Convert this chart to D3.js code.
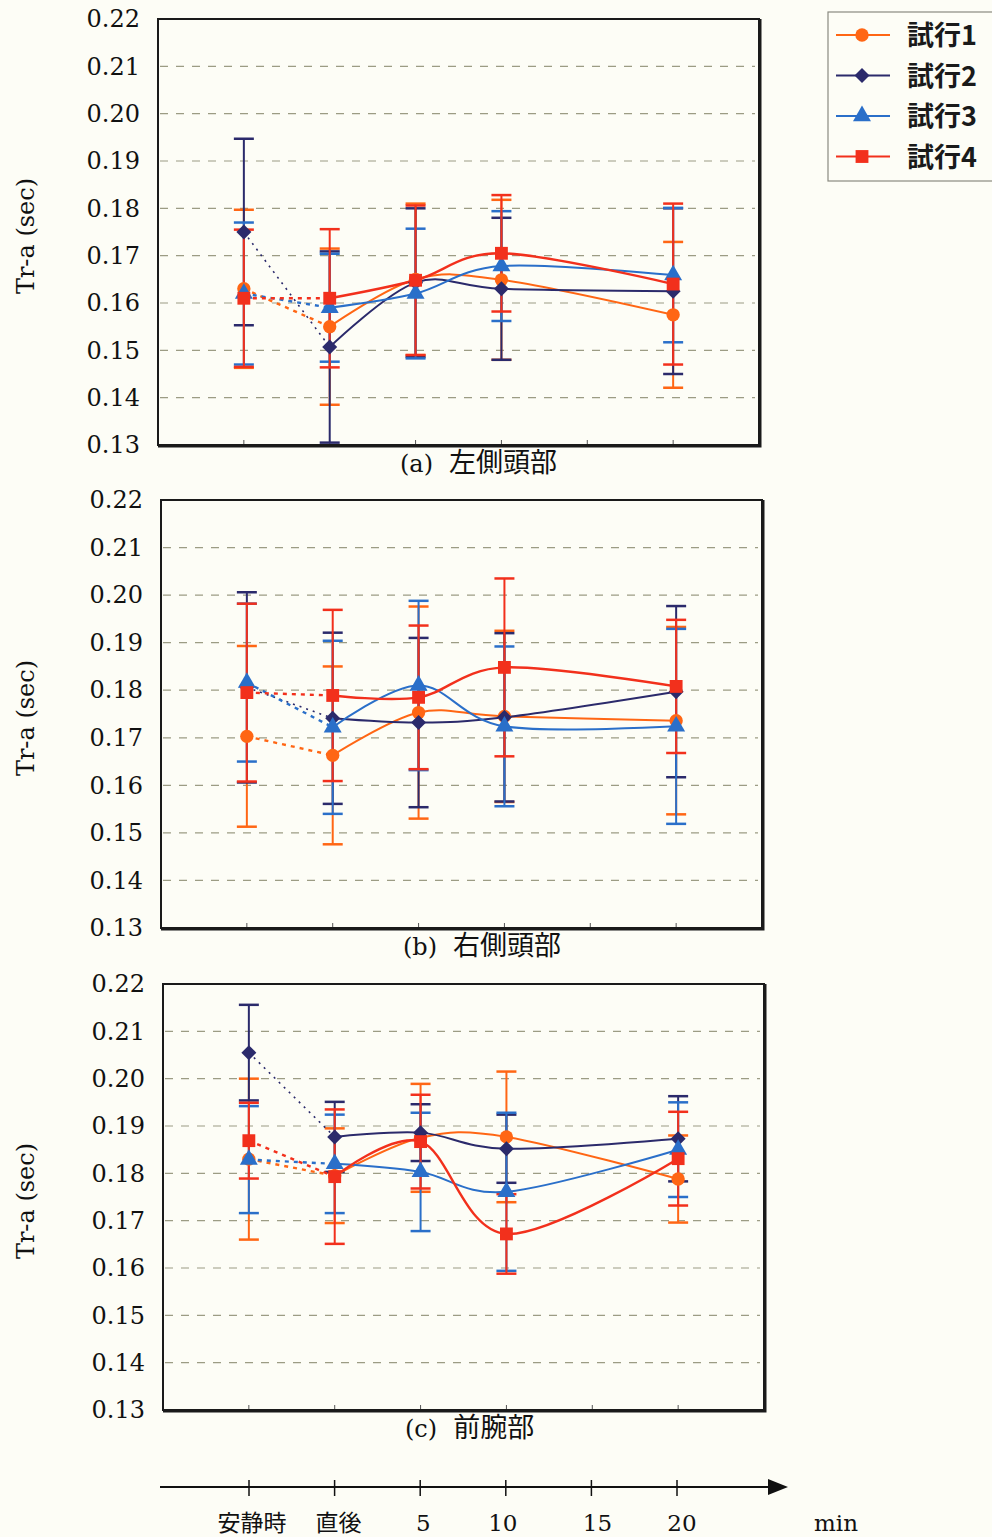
<!DOCTYPE html>
<html><head><meta charset="utf-8">
<script src="https://cdn.jsdelivr.net/npm/d3@7"></script>
<style>
html,body{margin:0;padding:0;background:#fdfdf6;}
svg{display:block;}
</style></head>
<body>
<svg id="chart" width="992" height="1537"></svg>
<script>
// ---------- data ----------
const categories = ["安静時", "直後", "5", "10", "15", "20"];
const dataCats = ["安静時", "直後", "5", "10", "20"];
const seriesNames = ["試行1", "試行2", "試行3", "試行4"];
const yTicks = [0.13, 0.14, 0.15, 0.16, 0.17, 0.18, 0.19, 0.20, 0.21, 0.22];
const panelTitles = ["(a)", "(b)", "(c)"];
const panelNames = ["左側頭部", "右側頭部", "前腕部"];

// panel (a) 左側頭部
const a_mean1 = [0.163, 0.155, 0.165, 0.1649, 0.1575];
const a_sd1   = [0.0167, 0.0165, 0.016, 0.0169, 0.0154];
const a_mean2 = [0.175, 0.1507, 0.1643, 0.163, 0.1625];
const a_sd2   = [0.0197, 0.0202, 0.0157, 0.015, 0.0175];
const a_mean3 = [0.162, 0.159, 0.162, 0.1678, 0.1659];
const a_sd3   = [0.015, 0.0114, 0.0137, 0.0116, 0.0142];
const a_mean4 = [0.161, 0.161, 0.1648, 0.1705, 0.164];
const a_sd4   = [0.0145, 0.0146, 0.0158, 0.0123, 0.017];
// panel (b) 右側頭部
const b_mean1 = [0.1703, 0.1663, 0.1753, 0.1745, 0.1736];
const b_sd1   = [0.019, 0.0187, 0.0223, 0.018, 0.0197];
const b_mean2 = [0.1806, 0.1741, 0.1732, 0.1743, 0.1797];
const b_sd2   = [0.020, 0.018, 0.0178, 0.0177, 0.018];
const b_mean3 = [0.1816, 0.1722, 0.181, 0.1724, 0.1724];
const b_sd3   = [0.0166, 0.0182, 0.0178, 0.0168, 0.0205];
const b_mean4 = [0.1795, 0.1789, 0.1785, 0.1848, 0.1808];
const b_sd4   = [0.0187, 0.018, 0.0151, 0.0187, 0.014];
// panel (c) 前腕部
const c_mean1 = [0.183, 0.1795, 0.1875, 0.1877, 0.1788];
const c_sd1   = [0.017, 0.010, 0.0114, 0.0138, 0.0092];
const c_mean2 = [0.2055, 0.1877, 0.1886, 0.1852, 0.1873];
const c_sd2   = [0.0101, 0.0074, 0.006, 0.0072, 0.009];
const c_mean3 = [0.1829, 0.182, 0.1803, 0.1761, 0.185];
const c_sd3   = [0.0113, 0.0104, 0.0125, 0.0167, 0.010];
const c_mean4 = [0.1869, 0.1793, 0.1867, 0.1672, 0.1831];
const c_sd4   = [0.008, 0.0142, 0.0099, 0.0084, 0.0099];

const panelData = [
  [[a_mean1, a_sd1], [a_mean2, a_sd2], [a_mean3, a_sd3], [a_mean4, a_sd4]],
  [[b_mean1, b_sd1], [b_mean2, b_sd2], [b_mean3, b_sd3], [b_mean4, b_sd4]],
  [[c_mean1, c_sd1], [c_mean2, c_sd2], [c_mean3, c_sd3], [c_mean4, c_sd4]]
];

// ---------- styles / layout ----------
const colors = ["#ff6614", "#2b2a6b", "#2a6fc9", "#f2301c"];
const markers = ["circle", "diamond", "triangle", "square"];
const layout = [
  {left: 158, top: 19, right: 759, bottom: 445},
  {left: 161, top: 500, right: 762, bottom: 928},
  {left: 163, top: 984, right: 764, bottom: 1410}
];
const serif = "'DejaVu Serif', 'Liberation Serif', serif";
const jp = "'Noto Sans CJK JP', sans-serif";

const svg = d3.select("#chart");
svg.append("rect").attr("width", 992).attr("height", 1537).attr("fill", "#fdfdf6");

function markerPath(type) {
  if (type === "diamond") {
    const p = d3.path(); p.moveTo(0, -7.5); p.lineTo(7.5, 0); p.lineTo(0, 7.5); p.lineTo(-7.5, 0); p.closePath();
    return p.toString();
  }
  const sym = {circle: d3.symbolCircle, triangle: d3.symbolTriangle, square: d3.symbolSquare}[type];
  const size = {circle: 140, triangle: 140, square: 165}[type];
  return d3.symbol().type(sym).size(size)();
}

layout.forEach((L, pi) => {
  const g = svg.append("g");
  const x = d3.scalePoint().domain(categories).range([L.left, L.right]).padding(1);
  const y = d3.scaleLinear().domain([0.13, 0.22]).range([L.bottom, L.top]);

  // grid lines
  g.selectAll(".grid").data(yTicks.filter(t => t > 0.131 && t < 0.219)).join("line")
    .attr("x1", L.left + 2).attr("x2", L.right - 4)
    .attr("y1", d => y(d)).attr("y2", d => y(d))
    .attr("stroke", "#9c9c84").attr("stroke-width", 1.2).attr("stroke-dasharray", "8,8");

  // y axis labels
  const yAxis = d3.axisLeft(y).tickValues(yTicks).tickFormat(d3.format(".2f")).tickSize(0).tickPadding(18);
  const ya = g.append("g").attr("transform", `translate(${L.left},0)`).call(yAxis);
  ya.select(".domain").remove();
  ya.selectAll("text").attr("font-family", serif).attr("font-size", 24).attr("fill", "#111");

  // small bottom ticks inside frame
  g.selectAll(".btick").data(categories).join("line")
    .attr("x1", d => x(d)).attr("x2", d => x(d))
    .attr("y1", L.bottom).attr("y2", L.bottom - 5)
    .attr("stroke", "#555").attr("stroke-width", 1);

  // frame
  g.append("rect").attr("x", L.left).attr("y", L.top)
    .attr("width", L.right - L.left).attr("height", L.bottom - L.top)
    .attr("fill", "none").attr("stroke", "#1a1a1a").attr("stroke-width", 2);
  g.append("path")
    .attr("d", `M${L.left},${L.bottom + 1}H${L.right + 1}V${L.top}`)
    .attr("fill", "none").attr("stroke", "#1a1a1a").attr("stroke-width", 3);

  // y title
  g.append("text")
    .attr("transform", `translate(34,${(L.top + L.bottom) / 2 + 4}) rotate(-90)`)
    .attr("text-anchor", "middle").attr("font-family", serif).attr("font-size", 24)
    .attr("fill", "#111").text("Tr-a (sec)");

  // caption
  const cap = g.append("text").attr("x", L.left + 242).attr("y", L.bottom + 27)
    .attr("font-size", 24).attr("fill", "#111");
  cap.append("tspan").attr("font-family", serif).text(panelTitles[pi]);
  cap.append("tspan").attr("dx", 16).attr("font-family", jp).attr("font-size", 27).text(panelNames[pi]);

  const series = panelData[pi];

  // error bars
  series.forEach((s, si) => {
    const [mean, sd] = s;
    const eg = g.append("g").attr("stroke", colors[si]).attr("fill", "none");
    dataCats.forEach((c, i) => {
      const cx = x(c), y1 = y(mean[i] + sd[i]), y0 = y(mean[i] - sd[i]);
      eg.append("line").attr("x1", cx).attr("x2", cx).attr("y1", y1).attr("y2", y0).attr("stroke-width", 2);
      eg.append("line").attr("x1", cx - 10).attr("x2", cx + 10).attr("y1", y1).attr("y2", y1).attr("stroke-width", 2.5);
      eg.append("line").attr("x1", cx - 10).attr("x2", cx + 10).attr("y1", y0).attr("y2", y0).attr("stroke-width", 2.5);
    });
  });

  // lines
  series.forEach((s, si) => {
    const [mean] = s;
    const pts = dataCats.map((c, i) => [x(c), y(mean[i])]);
    // dotted connector rest -> immediately after
    g.append("path").attr("d", d3.line()([pts[0], pts[1]]))
      .attr("fill", "none").attr("stroke", colors[si])
      .attr("stroke-width", si === 1 ? 1.6 : 2.4)
      .attr("stroke-dasharray", si === 1 ? "2,5" : "4,5");
    g.append("path").attr("d", d3.line().curve(d3.curveCatmullRom.alpha(0))(pts.slice(1)))
      .attr("fill", "none").attr("stroke", colors[si]).attr("stroke-width", si === 3 ? 2.4 : 2);
  });

  // markers
  series.forEach((s, si) => {
    const [mean] = s;
    g.append("g").selectAll("path").data(dataCats).join("path")
      .attr("transform", (c, i) => `translate(${x(c)},${y(mean[i])})`)
      .attr("d", markerPath(markers[si]))
      .attr("fill", colors[si]);
  });
});

// ---------- legend ----------
const lg = svg.append("g");
lg.append("rect").attr("x", 828).attr("y", 12).attr("width", 170).attr("height", 169)
  .attr("fill", "#fdfdf6").attr("stroke", "#8a8a80").attr("stroke-width", 1.2);
seriesNames.forEach((n, i) => {
  const yy = 35 + i * 40.5;
  lg.append("line").attr("x1", 836).attr("x2", 890).attr("y1", yy).attr("y2", yy)
    .attr("stroke", colors[i]).attr("stroke-width", 2);
  lg.append("path").attr("transform", `translate(862,${yy})`)
    .attr("d", markerPath(markers[i])).attr("fill", colors[i]);
  lg.append("text").attr("x", 907).attr("y", yy + 10).attr("font-family", jp)
    .attr("font-weight", "bold").attr("font-size", 27).attr("fill", "#1a1a1a").text(n);
});

// ---------- bottom time axis ----------
const xb = d3.scalePoint().domain(categories).range([249, 677]);
const ab = svg.append("g");
ab.append("line").attr("x1", 160).attr("x2", 775).attr("y1", 1487).attr("y2", 1487)
  .attr("stroke", "#111").attr("stroke-width", 2.2);
ab.append("path").attr("d", "M788,1487L768,1479L768,1495Z").attr("fill", "#111");
ab.selectAll(".t").data(categories).join("line")
  .attr("x1", d => xb(d)).attr("x2", d => xb(d)).attr("y1", 1480).attr("y2", 1496)
  .attr("stroke", "#111").attr("stroke-width", 1.5);
const labelOffsets = {"安静時": 3, "直後": 4, "5": 3, "10": -3, "15": 6, "20": 5};
ab.selectAll(".l").data(categories).join("text")
  .attr("x", d => xb(d) + labelOffsets[d]).attr("y", 1531)
  .attr("text-anchor", "middle")
  .attr("font-family", d => isNaN(+d) ? jp : serif)
  .attr("font-size", d => isNaN(+d) ? 23 : 23)
  .attr("fill", "#111").text(d => d);
ab.append("text").attr("x", 836).attr("y", 1531).attr("text-anchor", "middle")
  .attr("font-family", serif).attr("font-size", 23).attr("fill", "#111").text("min");
</script>
</body></html>
